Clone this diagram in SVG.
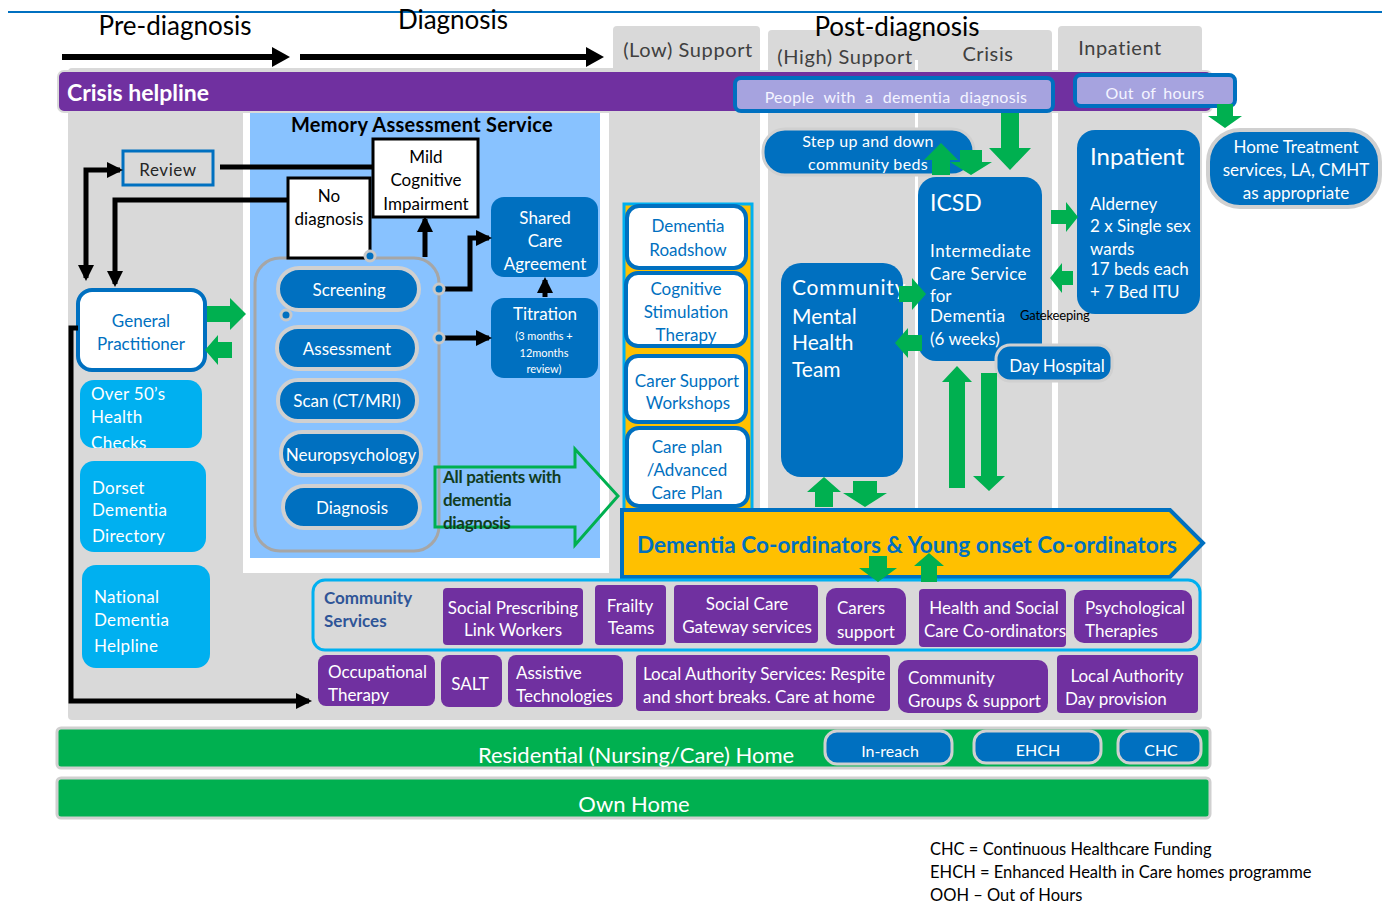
<svg xmlns="http://www.w3.org/2000/svg" width="1382" height="906" viewBox="0 0 1382 906">
<defs>
<style>
text{font-family:Lato,"Liberation Sans",sans-serif}
.hd{font-size:26px;fill:#000}
.tab{font-size:20px;fill:#404040;letter-spacing:0.6px}
.w{fill:#fff}
.bt{fill:#0070C0}
.f16{font-size:16px}
.f17{font-size:17px}
.c{text-anchor:middle}
.bold{font-weight:bold}
.gray{fill:#D9D9D9}
.blue{fill:#0070C0}
.bluebox{fill:#0070C0;stroke:#D0D0D0;stroke-width:3}
.purple{fill:#7030A0}
.cyan{fill:#00B0F0}
.ga{fill:#00B050}
.conn{fill:none;stroke:#000;stroke-width:5}
.wb{fill:#fff;stroke:#0070C0;stroke-width:4}
.pill{fill:#0070C0;stroke:#D0D0D0;stroke-width:4}
.dot{fill:#0070C0;stroke:#C8C8C8;stroke-width:3}
.lav{fill:#A6A3DF;stroke:#0070C0;stroke-width:4}
.bk{fill:#fff;stroke:#000;stroke-width:3}
</style>
<marker id="ah" markerUnits="userSpaceOnUse" markerWidth="16" markerHeight="16" refX="13" refY="8" orient="auto-start-reverse" viewBox="0 0 16 16">
<path d="M0,0 L16,8 L0,16 z" fill="#000"/>
</marker>
<clipPath id="clipOver"><rect x="80" y="380" width="122" height="68" rx="14"/></clipPath>
</defs>

<!-- background -->
<rect x="0" y="0" width="1382" height="906" fill="#fff"/>
<line x1="8" y1="12" x2="1382" y2="12" stroke="#0070C0" stroke-width="2"/>

<g id="background">
<rect x="613" y="26" width="147" height="60" rx="4" class="gray"/>
<rect x="768" y="30" width="284" height="60" rx="4" class="gray"/>
<rect x="1058" y="26" width="144" height="60" rx="4" class="gray"/>
<rect x="68" y="68" width="1134" height="652" rx="4" class="gray"/>
<rect x="243" y="110" width="366" height="463" fill="#fff"/>
<rect x="250" y="112" width="350" height="446" fill="#88C2FF"/>
<rect x="760" y="26" width="8" height="556" fill="#fff"/>
<rect x="915" y="60" width="3" height="520" fill="#fff"/>
<rect x="1052" y="26" width="6" height="560" fill="#fff"/>
</g>

<g id="header">
<text x="175" y="35" class="hd c">Pre-diagnosis</text>
<text x="453" y="29" class="hd c">Diagnosis</text>
<text x="897" y="36" class="hd c">Post-diagnosis</text>
<line x1="62" y1="57" x2="274" y2="57" stroke="#000" stroke-width="6"/>
<polygon points="272,47 290,57 272,67" fill="#000"/>
<line x1="300" y1="57" x2="588" y2="57" stroke="#000" stroke-width="6"/>
<polygon points="586,47 604,57 586,67" fill="#000"/>
<text x="688" y="57" class="tab c">(Low) Support</text>
<text x="845" y="64" class="tab c">(High) Support</text>
<text x="988" y="61" class="tab c">Crisis</text>
<text x="1120" y="55" class="tab c">Inpatient</text>
</g>

<g id="crisis-helpline">
<rect x="58" y="71" width="1154" height="41" rx="6" fill="#7030A0" stroke="#D9D9D9" stroke-width="2"/>
<text x="67" y="101" class="w bold" font-size="23">Crisis helpline</text>
</g>
<g id="people-dementia">
<rect x="735" y="78" width="318" height="33" rx="6" class="lav"/>
<text x="896" y="103" class="c f16" fill="#F4F4FF" word-spacing="5" letter-spacing="0.3">People  with  a dementia  diagnosis</text>
</g>
<g id="out-of-hours">
<rect x="1075" y="75" width="160" height="31" rx="6" class="lav"/>
<text x="1155" y="99" class="c f16" fill="#F4F4FF" word-spacing="3" letter-spacing="0.3">Out of hours</text>
</g>

<!-- Pre-diagnosis column -->
<g id="review">
<rect x="123" y="151" width="90" height="34" class="gray" stroke="#0070C0" stroke-width="3"/>
<text x="168" y="176" class="c f17" fill="#262626" letter-spacing="0.6">Review</text>
</g>
<g id="gp">
<rect x="78" y="290" width="127" height="80" rx="14" class="wb"/>
<text x="141" y="327" class="c f17 bt">General</text>
<text x="141" y="350" class="c f17 bt">Practitioner</text>
</g>
<g id="over50">
<rect x="80" y="380" width="122" height="68" rx="14" class="cyan"/>
<g clip-path="url(#clipOver)">
<text x="91" y="400" class="f17 w" letter-spacing="0.3">Over 50’s</text>
<text x="91" y="423" class="f17 w" letter-spacing="0.3">Health</text>
<text x="91" y="449" class="f17 w" letter-spacing="0.3">Checks</text>
</g>
</g>
<g id="dorset">
<rect x="80" y="461" width="126" height="91" rx="14" class="cyan"/>
<text x="92" y="494" class="f17 w" letter-spacing="0.3">Dorset</text>
<text x="92" y="516" class="f17 w" letter-spacing="0.3">Dementia</text>
<text x="92" y="542" class="f17 w" letter-spacing="0.3">Directory</text>
</g>
<g id="national">
<rect x="82" y="565" width="128" height="103" rx="14" class="cyan"/>
<text x="94" y="603" class="f17 w" letter-spacing="0.3">National</text>
<text x="94" y="626" class="f17 w" letter-spacing="0.3">Dementia</text>
<text x="94" y="652" class="f17 w" letter-spacing="0.3">Helpline</text>
</g>

<!-- Memory Assessment Service -->
<g id="mas">
<text x="422" y="132" class="c bold" font-size="20" fill="#000" letter-spacing="0.3">Memory Assessment Service</text>
<rect x="255" y="258" width="184" height="293" rx="25" fill="none" stroke="#A6A6A6" stroke-width="3"/>
</g>
<g id="no-diagnosis">
<rect x="288" y="178" width="82" height="80" class="bk"/>
<text x="329" y="202" class="c f17" fill="#000">No</text>
<text x="329" y="225" class="c f17" fill="#000">diagnosis</text>
</g>
<g id="mci">
<rect x="373" y="139" width="105" height="78" class="bk"/>
<text x="426" y="163" class="c f17" fill="#000">Mild</text>
<text x="426" y="186" class="c f17" fill="#000">Cognitive</text>
<text x="426" y="210" class="c f17" fill="#000">Impairment</text>
</g>
<g id="screening">
<rect x="278" y="268" width="141" height="42" rx="21" class="pill"/>
<text x="349" y="296" class="c f17 w">Screening</text>
</g>
<g id="assessment">
<rect x="277" y="327" width="140" height="42" rx="21" class="pill"/>
<text x="347" y="355" class="c f17 w">Assessment</text>
</g>
<g id="scan">
<rect x="278" y="380" width="139" height="41" rx="20" class="pill"/>
<text x="347" y="407" class="c f17 w">Scan (CT/MRI)</text>
</g>
<g id="neuropsychology">
<rect x="281" y="432" width="140" height="43" rx="21" class="pill"/>
<text x="351" y="461" class="c f17 w">Neuropsychology</text>
</g>
<g id="diagnosis">
<rect x="283" y="486" width="137" height="42" rx="21" class="pill"/>
<text x="352" y="514" class="c f17 w">Diagnosis</text>
</g>
<g id="shared-care">
<rect x="491" y="197" width="107" height="80" rx="13" class="blue"/>
<text x="545" y="224" class="c f17 w">Shared</text>
<text x="545" y="247" class="c f17 w">Care</text>
<text x="545" y="270" class="c f17 w">Agreement</text>
</g>
<g id="titration">
<rect x="491" y="298" width="107" height="80" rx="13" class="blue"/>
<text x="545" y="320" class="c f17 w">Titration</text>
<text x="544" y="340" class="c w" font-size="11">(3  months +</text>
<text x="544" y="357" class="c w" font-size="11">12months</text>
<text x="544" y="373" class="c w" font-size="11">review)</text>
</g>
<g id="all-patients">
<polygon points="435,467 575,467 575,449 618,496 575,545 575,527 435,527" fill="none" stroke="#00B050" stroke-width="3"/>
<text x="443" y="483" class="bold f17" fill="#123D1F" letter-spacing="-0.3">All patients with</text>
<text x="443" y="506" class="bold f17" fill="#123D1F" letter-spacing="-0.3">dementia</text>
<text x="443" y="529" class="bold f17" fill="#123D1F" letter-spacing="-0.3">diagnosis</text>
</g>

<!-- Low support column -->
<g id="low-support-strip">
<rect x="624" y="204" width="128" height="378" fill="#FFC000" stroke="#00B0F0" stroke-width="3"/>
</g>
<g id="roadshow">
<rect x="627" y="206" width="119" height="62" rx="12" class="wb"/>
<text x="688" y="232" class="c f17 bt">Dementia</text>
<text x="688" y="256" class="c f17 bt">Roadshow</text>
</g>
<g id="cst">
<rect x="626" y="273" width="120" height="73" rx="12" class="wb"/>
<text x="686" y="295" class="c f17 bt">Cognitive</text>
<text x="686" y="318" class="c f17 bt">Stimulation</text>
<text x="686" y="341" class="c f17 bt">Therapy</text>
</g>
<g id="carer-workshops">
<rect x="626" y="356" width="120" height="66" rx="12" class="wb"/>
<text x="687" y="387" class="c f17 bt">Carer Support</text>
<text x="688" y="409" class="c f17 bt">Workshops</text>
</g>
<g id="care-plan">
<rect x="627" y="428" width="121" height="78" rx="12" class="wb"/>
<text x="687" y="453" class="c f17 bt">Care plan</text>
<text x="687" y="476" class="c f17 bt">/Advanced</text>
<text x="687" y="499" class="c f17 bt">Care Plan</text>
</g>

<!-- High support / crisis / inpatient -->
<g id="step-up">
<rect x="763" y="129" width="211" height="46" rx="22" fill="#0070C0" stroke="#D0D0D0" stroke-width="3"/>
<text x="868" y="147" class="c f16 w" letter-spacing="0.3">Step up and down</text>
<text x="868" y="170" class="c f16 w" letter-spacing="0.3">community beds</text>
</g>
<g id="cmht">
<rect x="781" y="263" width="122" height="214" rx="20" class="blue"/>
<text x="792" y="295" class="w" font-size="21" letter-spacing="0.8">Community</text>
<text x="792" y="324" class="w" font-size="21">Mental</text>
<text x="792" y="350" class="w" font-size="21">Health</text>
<text x="792" y="377" class="w" font-size="21">Team</text>
</g>
<g id="icsd">
<rect x="918" y="177" width="124" height="184" rx="18" class="blue"/>
<text x="930" y="211" class="w" font-size="23">ICSD</text>
<text x="930" y="257" class="f17 w" letter-spacing="0.5">Intermediate</text>
<text x="930" y="280" class="f17 w" letter-spacing="0.3">Care Service</text>
<text x="930" y="302" class="f17 w">for</text>
<text x="930" y="322" class="f17 w" letter-spacing="0.3">Dementia</text>
<text x="930" y="345" class="f17 w">(6 weeks)</text>
</g>
<g id="gatekeeping">
<text x="1020" y="320" font-size="13" fill="#000" letter-spacing="-0.2">Gatekeeping</text>
</g>
<g id="day-hospital">
<rect x="996" y="345" width="116" height="36" rx="14" class="bluebox"/>
<text x="1057" y="372" class="c f17 w">Day Hospital</text>
</g>
<g id="inpatient">
<rect x="1077" y="130" width="123" height="184" rx="18" class="blue"/>
<text x="1090" y="165" class="w" font-size="24">Inpatient</text>
<text x="1090" y="210" class="f17 w">Alderney</text>
<text x="1090" y="232" class="f17 w">2 x Single sex</text>
<text x="1090" y="255" class="f17 w">wards</text>
<text x="1090" y="275" class="f17 w">17 beds each</text>
<text x="1090" y="298" class="f17 w">+ 7 Bed ITU</text>
</g>
<g id="home-treatment">
<rect x="1208" y="130" width="172" height="77" rx="32" fill="#0070C0" stroke="#D0D0D0" stroke-width="4"/>
<text x="1296" y="153" class="c f17 w">Home Treatment</text>
<text x="1296" y="176" class="c f17 w">services, LA, CMHT</text>
<text x="1296" y="199" class="c f17 w">as appropriate</text>
</g>

<g id="dementia-coordinators">
<polygon points="622,510 1170,510 1203,543 1170,577 622,577" fill="#FFC000" stroke="#0070C0" stroke-width="4"/>
<text x="637" y="553" class="bold bt" font-size="22.5" textLength="540" lengthAdjust="spacing">Dementia Co-ordinators &amp; Young onset Co-ordinators</text>
</g>

<!-- community services -->
<g id="community-services">
<rect x="313" y="580" width="887" height="70" rx="12" class="gray" stroke="#00B0F0" stroke-width="3"/>
<text x="324" y="604" class="bold f17" fill="#2F5597">Community</text>
<text x="324" y="627" class="bold f17" fill="#2F5597">Services</text>
</g>
<g id="social-prescribing">
<rect x="443" y="588" width="140" height="57" rx="4" class="purple"/>
<text x="513" y="614" class="c f17 w">Social Prescribing</text>
<text x="513" y="636" class="c f17 w">Link Workers</text>
</g>
<g id="frailty">
<rect x="595" y="585" width="71" height="60" rx="4" class="purple"/>
<text x="630" y="612" class="c f17 w">Frailty</text>
<text x="631" y="634" class="c f17 w">Teams</text>
</g>
<g id="gateway">
<rect x="674" y="585" width="144" height="58" rx="4" class="purple"/>
<text x="747" y="610" class="c f17 w">Social Care</text>
<text x="747" y="633" class="c f17 w">Gateway services</text>
</g>
<g id="carers-support">
<rect x="826" y="588" width="80" height="57" rx="10" class="purple"/>
<text x="837" y="614" class="f17 w">Carers</text>
<text x="837" y="638" class="f17 w">support</text>
</g>
<g id="hsc-coordinators">
<rect x="919" y="589" width="147" height="58" rx="4" class="purple"/>
<text x="994" y="614" class="c f17 w">Health and Social</text>
<text x="995" y="637" class="c f17 w">Care Co-ordinators</text>
</g>
<g id="psychological">
<rect x="1074" y="590" width="118" height="53" rx="10" class="purple"/>
<text x="1085" y="614" class="f17 w">Psychological</text>
<text x="1085" y="637" class="f17 w">Therapies</text>
</g>
<g id="ot">
<rect x="318" y="655" width="117" height="51" rx="8" class="purple"/>
<text x="328" y="678" class="f17 w">Occupational</text>
<text x="328" y="701" class="f17 w">Therapy</text>
</g>
<g id="salt">
<rect x="441" y="655" width="61" height="52" rx="8" class="purple"/>
<text x="470" y="690" class="c f17 w">SALT</text>
</g>
<g id="assistive">
<rect x="508" y="655" width="115" height="52" rx="8" class="purple"/>
<text x="516" y="679" class="f17 w">Assistive</text>
<text x="516" y="702" class="f17 w">Technologies</text>
</g>
<g id="la-services">
<rect x="636" y="655" width="254" height="56" rx="4" class="purple"/>
<text x="643" y="680" class="f17 w">Local Authority Services: Respite</text>
<text x="643" y="703" class="f17 w">and short breaks. Care at home</text>
</g>
<g id="community-groups">
<rect x="898" y="660" width="150" height="53" rx="10" class="purple"/>
<text x="908" y="684" class="f17 w">Community</text>
<text x="908" y="707" class="f17 w">Groups &amp; support</text>
</g>
<g id="la-day">
<rect x="1057" y="655" width="141" height="58" rx="4" class="purple"/>
<text x="1127" y="682" class="c f17 w">Local Authority</text>
<text x="1065" y="705" class="f17 w">Day provision</text>
</g>

<!-- homes -->
<g id="residential">
<rect x="57" y="728" width="1153" height="40" rx="4" fill="#00B050" stroke="#D0D0D0" stroke-width="3"/>
<text x="636" y="763" class="c w" font-size="22">Residential (Nursing/Care) Home</text>
</g>
<g id="in-reach">
<rect x="825" y="731" width="127" height="33" rx="12" class="bluebox"/>
<text x="890" y="757" class="c f16 w">In-reach</text>
</g>
<g id="ehch">
<rect x="974" y="731" width="127" height="32" rx="12" class="bluebox"/>
<text x="1038" y="756" class="c f16 w">EHCH</text>
</g>
<g id="chc">
<rect x="1118" y="731" width="83" height="32" rx="12" class="bluebox"/>
<text x="1161" y="756" class="c f16 w">CHC</text>
</g>
<g id="own-home">
<rect x="57" y="778" width="1153" height="40" rx="4" fill="#00B050" stroke="#D0D0D0" stroke-width="3"/>
<text x="634" y="812" class="c w" font-size="22">Own Home</text>
</g>

<g id="legend">
<text x="930" y="855" font-size="16.5" fill="#000">CHC = Continuous Healthcare Funding</text>
<text x="930" y="878" font-size="16.5" fill="#000">EHCH = Enhanced Health in Care homes programme</text>
<text x="930" y="901" font-size="16.5" fill="#000">OOH – Out of Hours</text>
</g>

<!-- connectors -->
<g id="connectors">
<path class="conn" d="M86,278 L86,170 L120,170" marker-start="url(#ah)" marker-end="url(#ah)"/>
<path class="conn" d="M288,200 L115,200 L115,284" marker-end="url(#ah)"/>
<path class="conn" d="M220,167 L373,167"/>
<path class="conn" d="M425,257 L425,219" marker-end="url(#ah)"/>
<path class="conn" d="M444,289 L470,289 L470,238 L489,238" marker-end="url(#ah)"/>
<path class="conn" d="M444,338 L489,338" marker-end="url(#ah)"/>
<path class="conn" d="M545,297 L545,280" marker-end="url(#ah)"/>
<path class="conn" d="M78,328 L71,328 L71,701 L309,701" marker-end="url(#ah)"/>
<circle cx="370" cy="256" r="5" class="dot"/>
<circle cx="286" cy="315" r="5" class="dot"/>
<circle cx="439" cy="289" r="5" class="dot"/>
<circle cx="439" cy="338" r="5" class="dot"/>
<polygon class="ga" points="207,306 230,306 230,298 246,314 230,330 230,322 207,322"/>
<polygon class="ga" points="205,350 218,335 218,342 232,342 232,358 218,358 218,365"/>
<polygon class="ga" points="1051,210 1066,210 1066,202 1078,217 1066,232 1066,224 1051,224"/>
<polygon class="ga" points="1050,278 1062,263 1062,271 1073,271 1073,285 1062,285 1062,293"/>
<polygon class="ga" points="899,286 912,286 912,278 926,294 912,310 912,302 899,302"/>
<polygon class="ga" points="895,343 908,328 908,335 922,335 922,351 908,351 908,358"/>
<polygon class="ga" points="1001,113 1019,113 1019,148 1031,148 1010,170 989,148 1001,148"/>
<polygon class="ga" points="1217,104 1233,104 1233,116 1242,116 1225,128 1208,116 1217,116"/>
<polygon class="ga" points="941,143 958,160 950,160 950,175 932,175 932,160 924,160"/>
<polygon class="ga" points="960,150 982,150 982,162 992,162 971,175 950,162 960,162"/>
<polygon class="ga" points="824,477 841,492 833,492 833,507 815,507 815,492 807,492"/>
<polygon class="ga" points="853,481 877,481 877,493 887,493 865,507 843,493 853,493"/>
<polygon class="ga" points="957,366 972,382 965,382 965,488 949,488 949,382 942,382"/>
<polygon class="ga" points="981,373 997,373 997,476 1005,476 989,491 973,476 981,476"/>
<polygon class="ga" points="869,556 887,556 887,568 897,568 878,582 859,568 869,568"/>
<polygon class="ga" points="929,553 944,566 937,566 937,582 921,582 921,566 914,566"/>
</g>
</svg>
